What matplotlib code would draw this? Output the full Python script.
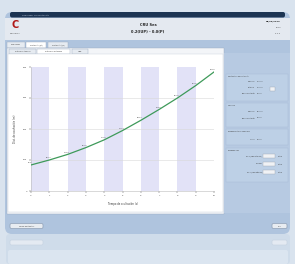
import matplotlib
matplotlib.use("Agg")
import matplotlib.pyplot as plt
from matplotlib.patches import FancyBboxPatch, Rectangle
import numpy as np

# ---- data ----
x_vals = [0, 1, 2, 3, 4, 5, 6, 7, 8, 9, 10]
y_vals = [84, 100, 118, 140, 165, 195, 228, 263, 300, 340, 384]
point_labels = ["84.0", "100.1", "118.3", "140.2", "165.0", "195.4", "228.1", "263.0", "300.2", "340.5", "384.0"]
x_ticks = [0, 1, 2, 3, 4, 5, 6, 7, 8, 9, 10]
y_ticks = [0, 100, 200, 300, 400]
x_label = "Tiempo de ocultación (s)"
y_label = "Dist. de ocultación (m)"
title_lines = ["CRU Ses", "0.2(IUP) - 0.0(P)"]

W, H = 295, 264
fig = plt.figure(figsize=(W / 100, H / 100), dpi=100)
fig.patch.set_facecolor("#d9e3ee")

bg = fig.add_axes([0, 0, 1, 1])
bg.set_xlim(0, W)
bg.set_ylim(H, 0)
bg.axis("off")

def rbox(x, y, w, h, fc, ec="none", r=2, lw=0.5, z=1, alpha=1):
    p = FancyBboxPatch((x, y), w, h, boxstyle=f"round,pad=0,rounding_size={r}",
                       fc=fc, ec=ec, lw=lw, zorder=z, alpha=alpha)
    bg.add_patch(p)

# reflection (faded)
rbox(6, 234, 284, 30, "#cfdcea", r=4, z=0)
rbox(8, 250, 280, 14, "#dbe5f0", r=2, z=0)
# window body
rbox(5, 12, 285, 222, "#afc4de", r=7, z=1)
# title bar
rbox(10, 12, 275, 5.5, "#1c3452", r=2, z=2)
bg.text(22, 14.8, "Simulador de ocultación", fontsize=1.6, color="#c8d4e4", va="center", zorder=3)
# header area
bg.add_patch(Rectangle((5, 17.5), 285, 22.5, fc="#e4e9f0", ec="none", zorder=2))
bg.text(148, 25, title_lines[0], fontsize=2.6, ha="center", va="center", color="#222222", zorder=3, weight="bold")
bg.text(148, 32, title_lines[1], fontsize=2.6, ha="center", va="center", color="#222222", zorder=3, weight="bold")
bg.text(15, 25, "C", fontsize=7, ha="center", va="center", color="#b01818", zorder=3, weight="bold")
bg.text(15, 33, "CIRCUNTEC", fontsize=1.4, ha="center", va="center", color="#555555", zorder=3)
bg.text(281, 21, "28/09/2009", fontsize=1.6, ha="right", va="center", color="#222222", zorder=3, weight="bold")
bg.text(281, 28, "10:22", fontsize=1.4, ha="right", va="center", color="#444444", zorder=3)
bg.text(281, 33, "v1.0.3", fontsize=1.4, ha="right", va="center", color="#444444", zorder=3)

# tabs
for (tx, tw, txt, fc) in [(7, 18, "Condiciones", "#e6ebf1"), (26, 20, "Ocultación (d/t)", "#ffffff"), (48, 20, "Ocultación (t/d)", "#e6ebf1")]:
    bg.add_patch(Rectangle((tx, 42), tw, 5.5, fc=fc, ec="#9aaac0", lw=0.3, zorder=2))
    bg.text(tx + tw / 2, 44.8, txt, fontsize=1.2, ha="center", va="center", color="#333333", zorder=3)
bg.add_patch(Rectangle((7, 47.5), 217, 166, fc="#f3f5f8", ec="#9aaac0", lw=0.3, zorder=2))
for (tx, tw, txt, fc) in [(9, 27, "Gráfica de tiempos", "#e6ebf1"), (37, 33, "Gráfica de distancias", "#ffffff"), (72, 16, "Tabla", "#e6ebf1")]:
    bg.add_patch(Rectangle((tx, 48.5), tw, 5, fc=fc, ec="#9aaac0", lw=0.3, zorder=3))
    bg.text(tx + tw / 2, 51, txt, fontsize=1.2, ha="center", va="center", color="#333333", zorder=4)
# white chart panel
bg.add_patch(Rectangle((8, 53.5), 215, 158.5, fc="white", ec="#c8d0dc", lw=0.3, zorder=3))

# right panel group boxes
bg.add_patch(Rectangle((224, 53), 66, 160, fc="#b7cae2", ec="none", zorder=2))
groups = [(74, 27, "Parámetros de ocultación",
           [("Velocidad", "20.0000"), ("Distancia", "40.0000"), ("Tiempo ocultación", "2.0000")]),
          (103, 24, "Valor fijo", [("Velocidad", "10.0000"), ("Tiempo ocultación", "3.0000")]),
          (129, 16, "Escalamiento de velocidad", [("1.0000", "2.0000")]),
          (148, 34, "Escalado ejes", [("Eje X (Valor Máximo)", "10.00"), ("Escalado", "1.00"), ("Eje Y (Valor Máximo)", "400.00")])]
for gy, gh, gt, rows in groups:
    bg.add_patch(Rectangle((226, gy), 62, gh, fc="#bdd0e6", ec="#a6bad4", lw=0.3, zorder=3))
    bg.text(228, gy + 2.5, gt, fontsize=1.2, va="center", color="#333333", zorder=4)
    n = len(rows)
    for i, (a, b) in enumerate(rows):
        yy = gy + 8 + i * (gh - 10) / max(n, 1) if n > 1 else gy + 10
        if gt == "Escalado ejes":
            bg.text(262, yy, a, fontsize=1.1, ha="right", va="center", color="#333333", zorder=4)
            bg.add_patch(Rectangle((263, yy - 1.8), 12, 3.6, fc="#f0f2f5", ec="#a0a8b4", lw=0.3, zorder=4))
            bg.text(278, yy, "Metros", fontsize=1.1, va="center", color="#333333", zorder=4)
        else:
            bg.text(255, yy, a, fontsize=1.1, ha="right", va="center", color="#333333", zorder=4)
            bg.text(257, yy, b, fontsize=1.1, ha="left", va="center", color="#333333", zorder=4)
bg.add_patch(Rectangle((270, 87), 5, 4, fc="#f0f2f5", ec="#a0a8b4", lw=0.3, zorder=4))

# buttons
rbox(10, 223.5, 33, 5, "#e8ecf1", ec="#8f9fb5", r=1.5, z=3)
bg.text(26.5, 226, "Cargar parámetros", fontsize=1.2, ha="center", va="center", color="#333333", zorder=4)
rbox(272, 223.5, 15, 5, "#e8ecf1", ec="#8f9fb5", r=1.5, z=3)
bg.text(279.5, 226, "Salir", fontsize=1.2, ha="center", va="center", color="#333333", zorder=4)
rbox(10, 240, 33, 5, "#e4eaf2", ec="#c8d4e2", r=1.5, z=1)
rbox(272, 240, 15, 5, "#e4eaf2", ec="#c8d4e2", r=1.5, z=1)

# ---- chart ----
L, R, T, B = 31, 214, 67, 191
ax = fig.add_axes([L / W, 1 - B / H, (R - L) / W, (B - T) / H])
ax.set_zorder(5)
ax.set_facecolor("white")
ax.set_xlim(x_ticks[0], x_ticks[-1])
ax.set_ylim(y_ticks[0], y_ticks[-1])
for i in range(0, len(x_ticks) - 1, 2):
    ax.axvspan(x_ticks[i], x_ticks[i + 1], color="#e2e2f7", lw=0, zorder=0)
for yt in y_ticks[1:-1]:
    ax.axhline(yt, color="#d8d8d8", lw=0.4, zorder=1)
ax.plot(x_vals, y_vals, color="#3e9a5a", lw=0.9, zorder=3)
for xv, yv, lab in zip(x_vals, y_vals, point_labels):
    ax.text(xv - 0.05, yv + 6, lab, fontsize=1.4, ha="center", va="bottom", color="#333333", zorder=4)
ax.set_xticks(x_ticks)
ax.set_yticks(y_ticks)
ax.tick_params(labelsize=1.6, length=1.5, width=0.3, colors="#444444", pad=1.5)
for s in ax.spines.values():
    s.set_color("#bbbbbb")
    s.set_linewidth(0.4)
ax.spines["top"].set_visible(False)
ax.spines["right"].set_visible(False)
ax.set_xlabel(x_label, fontsize=1.8, color="#333333", labelpad=4)
ax.set_ylabel(y_label, fontsize=1.8, color="#333333", labelpad=4)

fig.savefig("out.png", dpi=100)
